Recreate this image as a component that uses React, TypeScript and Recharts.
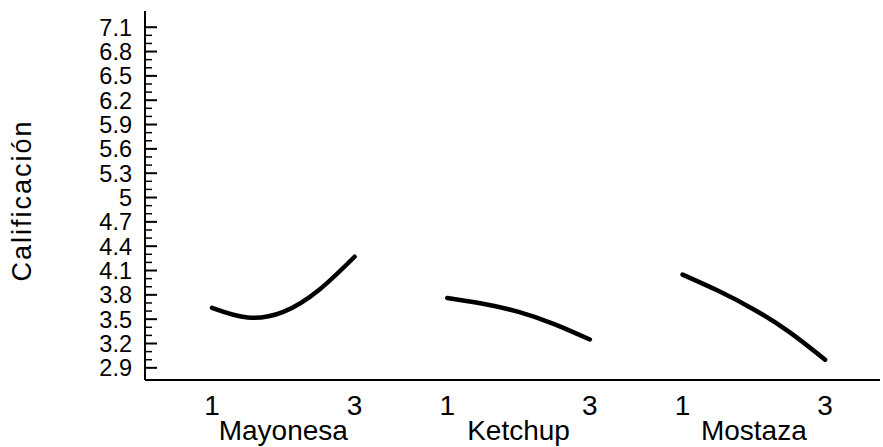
import { ComposedChart, Line, XAxis, YAxis } from 'recharts';

// factor names, sample levels read along each curve, and rating values
const factors = ['Mayonesa', 'Ketchup', 'Mostaza'];
const levels = [1, 1.5, 2, 2.5, 3];
const mayonesa = [3.64, 3.52, 3.59, 3.86, 4.27];
const ketchup = [3.76, 3.69, 3.59, 3.44, 3.25];
const mostaza = [4.05, 3.85, 3.62, 3.34, 3.0];
const levelTicks = [1, 3];
const yMajor = [2.9, 3.2, 3.5, 3.8, 4.1, 4.4, 4.7, 5, 5.3, 5.6, 5.9, 6.2, 6.5, 6.8, 7.1];
const yTitle = 'Calificación';

const PANEL_GAP = 3.3;
const FONT = '"Liberation Sans", Arial, sans-serif';

const seriesValues = [mayonesa, ketchup, mostaza];
const series = seriesValues.map((vals, i) => ({
  name: factors[i],
  data: levels.map((l, j) => ({ x: l + i * PANEL_GAP, y: vals[j] })),
}));

const xTicks = factors.flatMap((_, i) => [1, 2, 3].map((l) => l + i * PANEL_GAP));

const yTicks = yMajor.flatMap((m, i) =>
  i < yMajor.length - 1
    ? [m, Math.round((m + 0.1) * 10) / 10, Math.round((m + 0.2) * 10) / 10]
    : [m]
);

const XTick = ({ x, y, payload }: any) => {
  const v = payload.value;
  const i = Math.round((v - 2) / PANEL_GAP);
  const level = Math.round((v - i * PANEL_GAP) * 10) / 10;
  if (level === 2) {
    return (
      <text x={x} y={y + 60} textAnchor="middle" fontSize={28} fontFamily={FONT} fill="#000">
        {factors[i]}
      </text>
    );
  }
  if (!levelTicks.includes(level)) return null;
  return (
    <text x={x} y={y + 35} textAnchor="middle" fontSize={28} fontFamily={FONT} fill="#000">
      {level}
    </text>
  );
};

const YTick = ({ x, y, payload }: any) => {
  const v = payload.value;
  const major = yMajor.some((m) => Math.abs(m - v) < 1e-6);
  return (
    <g>
      <line x1={x} x2={x + (major ? 12 : 7)} y1={y} y2={y} stroke="#000" strokeWidth={major ? 2 : 1.5} />
      {major && (
        <text x={x - 13} y={y} dy="0.36em" textAnchor="end" fontSize={23.5} fontFamily={FONT} fill="#000">
          {String(v)}
        </text>
      )}
    </g>
  );
};

const YTitle = (props: any) => {
  const vb = props.viewBox || { x: 0, y: 11, height: 369 };
  const cx = vb.x + 31;
  const cy = vb.y + vb.height / 2 + 5;
  return (
    <text
      x={cx}
      y={cy}
      transform={`rotate(-90 ${cx} ${cy})`}
      textAnchor="middle"
      fontSize={27}
      letterSpacing={2}
      fontFamily={FONT}
      fill="#000"
    >
      {yTitle}
    </text>
  );
};

export default function App() {
  return (
    <div style={{ position: 'absolute', left: 0, top: 0, width: 883, height: 447, background: '#fff' }}>
      <ComposedChart width={883} height={447} margin={{ top: 11, right: 3, bottom: 0, left: 0 }}>
        <XAxis
          type="number"
          dataKey="x"
          domain={[0.06, 10.37]}
          ticks={xTicks}
          interval={0}
          tick={<XTick />}
          tickLine={false}
          tickSize={0}
          tickMargin={0}
          axisLine={{ stroke: '#000', strokeWidth: 2 }}
          height={67}
          allowDataOverflow
        />
        <YAxis
          type="number"
          domain={[2.75, 7.3]}
          ticks={yTicks}
          interval={0}
          tick={<YTick />}
          tickLine={false}
          tickSize={0}
          tickMargin={0}
          axisLine={{ stroke: '#000', strokeWidth: 2 }}
          width={145}
          allowDataOverflow
          label={{ content: <YTitle /> }}
        />
        {series.map((s) => (
          <Line
            key={s.name}
            name={s.name}
            data={s.data}
            dataKey="y"
            type="natural"
            stroke="#000"
            strokeWidth={4.5}
            strokeLinecap="round"
            dot={false}
            activeDot={false}
            isAnimationActive={false}
          />
        ))}
      </ComposedChart>
    </div>
  );
}
